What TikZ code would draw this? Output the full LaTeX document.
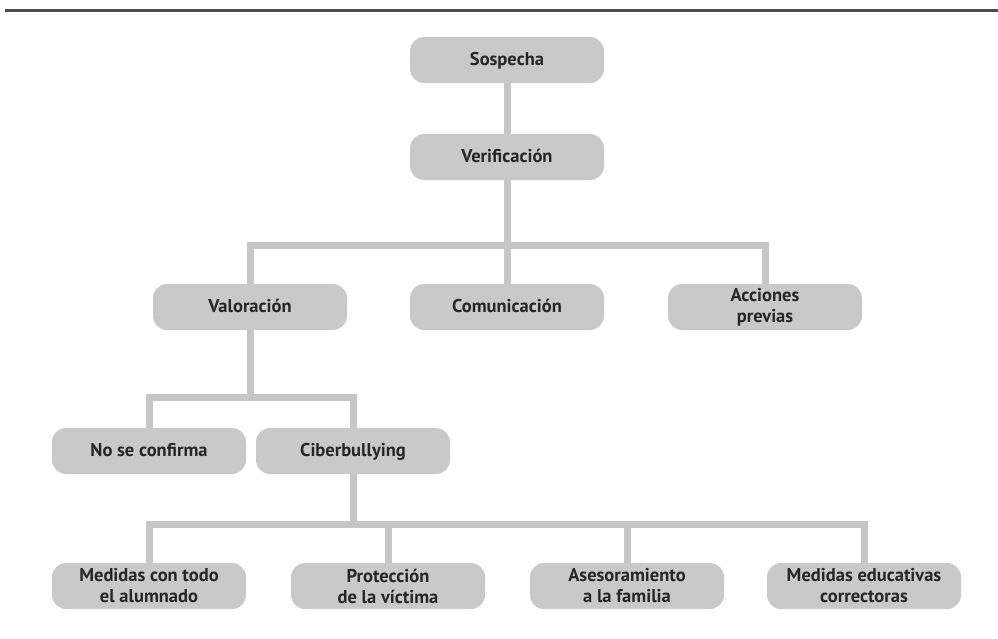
\documentclass[tikz,border=0pt]{standalone}
\usepackage{fontspec}
\setmainfont{PT Sans}
\usetikzlibrary{backgrounds}
\begin{document}
\begin{tikzpicture}[x=1pt,y=-1pt,
  box/.style={fill=boxgray, rounded corners=14pt, minimum width=194pt, minimum height=46pt,
    inner sep=2pt, align=center, font=\fontsize{18.5}{21}\selectfont\bfseries, text=black!85},
  onebox/.style={box, text height=12pt, text depth=1pt},
  conn/.style={draw=linegray, line width=7pt}]
\definecolor{boxgray}{HTML}{C9C9C9}
\definecolor{linegray}{HTML}{C6C6C6}
\useasboundingbox (0,0) rectangle (998,638);
\coordinate (tl) at (5,10);
\coordinate (tr) at (998,10);
\draw[draw=black!70, line width=3pt] (tl) -- (tr);
% nodes
\node[onebox] (sos) at (507,60) {Sospecha};
\node[onebox] (ver) at (507,157) {Verificación};
\node[onebox] (val) at (250,307) {Valoración};
\node[onebox] (com) at (507,307) {Comunicación};
\node[box] (acc) at (765,307) {Acciones\\previas};
\node[onebox] (noc) at (149,451) {No se confirma};
\node[onebox] (cib) at (353,451) {Ciberbullying};
\node[box] (med) at (149,586) {Medidas con todo\\el alumnado};
\node[box] (pro) at (388,586) {Protección\\de la víctima};
\node[box] (ase) at (627,586) {Asesoramiento\\a la familia};
\node[box] (edu) at (864,586) {Medidas educativas\\correctoras};
\coordinate (b1) at (507,245);
\coordinate (b2) at (250,397);
\coordinate (b3) at (353,524);
% connectors
\begin{scope}[on background layer]
\draw[conn] (sos) -- (ver);
\draw[conn] (ver) -- (b1);
\draw[conn] (val) |- (b1) -| (acc);
\draw[conn] (com) -- (com |- b1);
\draw[conn] (val) -- (b2);
\draw[conn] (noc) |- (b2) -| (cib);
\draw[conn] (cib) -- (b3);
\draw[conn] (med) |- (b3) -| (edu);
\draw[conn] (pro) -- (pro |- b3);
\draw[conn] (ase) -- (ase |- b3);
\end{scope}
\end{tikzpicture}
\end{document}
